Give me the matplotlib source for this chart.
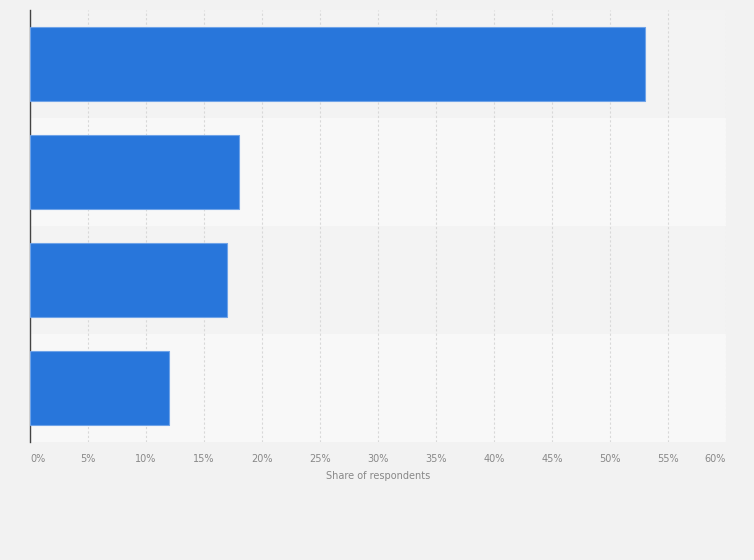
import numpy as np
import matplotlib.pyplot as plt

# category names are not shown on the reference chart
categories = ["", "", "", ""]
shares = [53, 18, 17, 12]
xticks = [0, 5, 10, 15, 20, 25, 30, 35, 40, 45, 50, 55, 60]
xlabel = "Share of respondents"

fig = plt.figure(figsize=(7.54, 5.6), dpi=100, facecolor='#f2f2f2')
ax = fig.add_axes([30 / 754, 118 / 560, 696 / 754, 432 / 560])
ax.set_facecolor('#f2f2f2')

y = np.arange(len(categories))
# alternating row bands
for i in y:
    ax.axhspan(i - 0.5, i + 0.5, color='#f3f3f3' if i % 2 == 0 else '#f8f8f8', zorder=0, lw=0)

ax.barh(y, shares, height=0.68, color='#2876db', edgecolor='#6fa3e8', linewidth=0.8, zorder=3)

ax.set_ylim(len(categories) - 0.5, -0.5)
ax.set_xlim(0, 60)
ax.set_yticks(y)
ax.set_yticklabels(categories)
ax.tick_params(axis='y', length=0)

ax.set_xticks(xticks)
ax.set_xticklabels([f"{t}%" for t in xticks], fontsize=7, color='#888888')
ax.get_xticklabels()[0].set_ha('left')
ax.get_xticklabels()[-1].set_ha('right')
ax.tick_params(axis='x', length=0, pad=9)
ax.set_xlabel(xlabel, fontsize=7, color='#888888', labelpad=5)

ax.grid(axis='x', color='#d8d8d8', linestyle=(0, (2, 2)), linewidth=0.8, zorder=1)
for s in ['top', 'right', 'bottom']:
    ax.spines[s].set_visible(False)
ax.spines['left'].set_color('#444444')
ax.spines['left'].set_linewidth(1)

fig.savefig('out.png', dpi=100, facecolor=fig.get_facecolor())
